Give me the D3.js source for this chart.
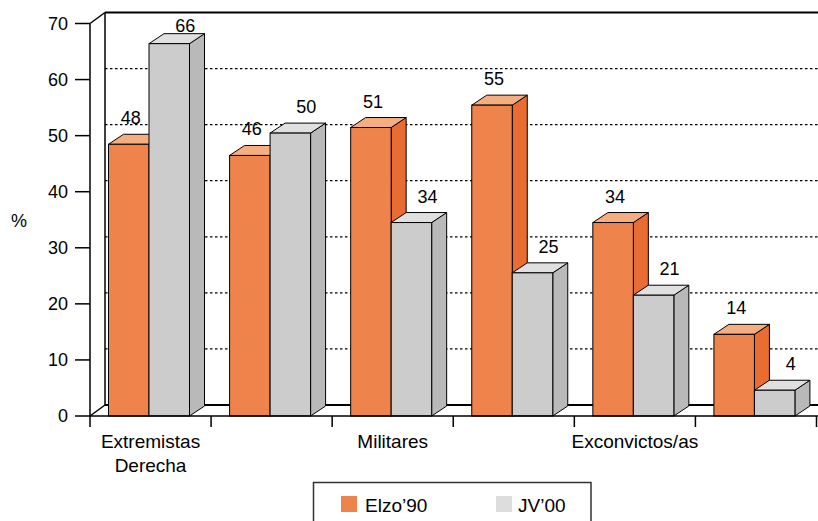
<!DOCTYPE html>
<html>
<head>
<meta charset="utf-8">
<script src="https://cdn.jsdelivr.net/npm/d3@7"></script>
<style>
  html, body { margin: 0; padding: 0; background: #fff; }
  svg { display: block; font-family: "Liberation Sans", Arial, sans-serif; }
</style>
</head>
<body>
<svg id="chart" width="818" height="521"></svg>
<script>
// ---- data ----
const categoryLabels = [["Extremistas", "Derecha"], [], ["Militares"], [], ["Exconvictos/as"], []];
const seriesNames = ["Elzo\u201990", "JV\u201900"];
const elzo90 = [48, 46, 51, 55, 34, 14];
const jv00 = [66, 50, 34, 25, 21, 4];
const yTicks = [0, 10, 20, 30, 40, 50, 60, 70];
const gridValues = [10, 20, 30, 40, 50, 60];

// ---- styles ----
const colors = {
  orange: { front: "#EE834B", top: "#F5AE80", side: "#E96C32", legend: "#EE834B" },
  gray:   { front: "#CCCCCC", top: "#E0E0E0", side: "#B9B9B9", legend: "#DDDDDD" }
};
const DX = 15, DY = -10;      // bar depth
const WX = 15, WY = -11;      // wall depth
const svg = d3.select("#chart");

const idx = d3.range(categoryLabels.length);
const x = d3.scaleBand().domain(idx).range([90, 816.5]).paddingInner(0).paddingOuter(0);
const y = d3.scaleLinear().domain([0, 70]).range([416, 23.5]);       // front axis
const yBar = d3.scaleLinear().domain([0, 70]).range([412.6, 21.3]);  // bar tops
const floorY = y(0);
const rightX = 818;

// ---- walls ----
const g = svg.append("g");
g.selectAll("line.grid").data(gridValues).enter().append("line")
  .attr("x1", 90 + WX).attr("x2", rightX)
  .attr("y1", d => y(d) + WY).attr("y2", d => y(d) + WY)
  .attr("stroke", "#000").attr("stroke-width", 1.3).attr("stroke-dasharray", "2.5,2.5");
g.append("line").attr("x1", 90 + WX).attr("x2", rightX)
  .attr("y1", y(70) + WY).attr("y2", y(70) + WY).attr("stroke", "#000").attr("stroke-width", 2);
g.append("line").attr("x1", 90 + WX).attr("x2", 90 + WX)
  .attr("y1", y(70) + WY).attr("y2", floorY + WY).attr("stroke", "#000").attr("stroke-width", 1.5);
g.append("line").attr("x1", 90 + WX).attr("x2", rightX)
  .attr("y1", floorY + WY).attr("y2", floorY + WY).attr("stroke", "#000").attr("stroke-width", 2);
g.append("line").attr("x1", 90).attr("y1", y(70)).attr("x2", 90 + WX).attr("y2", y(70) + WY)
  .attr("stroke", "#000").attr("stroke-width", 1.5);
g.append("line").attr("x1", 90).attr("y1", floorY).attr("x2", 90 + WX).attr("y2", floorY + WY)
  .attr("stroke", "#000").attr("stroke-width", 1.5);

// ---- bars ----
const barW = 40.5;
const offsets = [18.5, 18.5 + barW];
const series = [
  { name: seriesNames[0], values: elzo90, c: colors.orange, off: offsets[0], lx: 2 },
  { name: seriesNames[1], values: jv00, c: colors.gray, off: offsets[1], lx: 16 }
];

function drawBar(sel, x0, top, bottom, c) {
  const x1 = x0 + barW;
  sel.append("path")
    .attr("d", `M${x1},${top} L${x1 + DX},${top + DY} L${x1 + DX},${bottom + DY} L${x1},${bottom} Z`)
    .attr("fill", c.side).attr("stroke", "#000").attr("stroke-width", 1).attr("stroke-linejoin", "round");
  sel.append("path")
    .attr("d", `M${x0},${top} L${x0 + DX},${top + DY} L${x1 + DX},${top + DY} L${x1},${top} Z`)
    .attr("fill", c.top).attr("stroke", "#000").attr("stroke-width", 1).attr("stroke-linejoin", "round");
  sel.append("rect")
    .attr("x", x0).attr("y", top).attr("width", barW).attr("height", bottom - top)
    .attr("fill", c.front).attr("stroke", "#000").attr("stroke-width", 1);
}

const bars = svg.append("g");
idx.forEach(i => {
  series.forEach(s => {
    drawBar(bars, x(i) + s.off, yBar(s.values[i]), floorY, s.c);
  });
});

// ---- front axis lines ----
const ax = svg.append("g");
ax.append("line").attr("x1", 90).attr("x2", rightX).attr("y1", floorY).attr("y2", floorY)
  .attr("stroke", "#000").attr("stroke-width", 1.5);
ax.append("line").attr("x1", 90).attr("x2", 90).attr("y1", y(70)).attr("y2", floorY)
  .attr("stroke", "#000").attr("stroke-width", 1.5);
ax.selectAll("line.yt").data(yTicks).enter().append("line")
  .attr("x1", 75).attr("x2", 90).attr("y1", d => y(d)).attr("y2", d => y(d))
  .attr("stroke", "#000").attr("stroke-width", 1.5);
ax.selectAll("text.yt").data(yTicks).enter().append("text")
  .attr("x", 68).attr("y", d => y(d)).attr("dy", "0.36em")
  .attr("text-anchor", "end").attr("font-size", 18).attr("fill", "#000").text(d => d);
const xEdges = idx.map(i => x(i)).concat([x(idx.length - 1) + x.bandwidth()]);
ax.selectAll("line.xt").data(xEdges).enter().append("line")
  .attr("x1", d => d).attr("x2", d => d).attr("y1", floorY).attr("y2", floorY + 11)
  .attr("stroke", "#000").attr("stroke-width", 1.5);
idx.forEach(i => {
  const lines = categoryLabels[i];
  const t = ax.append("text").attr("text-anchor", "middle").attr("font-size", 19).attr("fill", "#000");
  lines.forEach((ln, k) => {
    t.append("tspan").attr("x", x(i) + x.bandwidth() / 2).attr("y", 447.5 + k * 24).text(ln);
  });
});
svg.append("text").attr("x", 19).attr("y", 221).attr("dy", "0.36em").attr("text-anchor", "middle")
  .attr("font-size", 18).text("%");

// ---- value labels ----
const labels = svg.append("g");
idx.forEach(i => {
  series.forEach(s => {
    const v = s.values[i];
    labels.append("text")
      .attr("x", x(i) + s.off + barW / 2 + s.lx)
      .attr("y", Math.max(yBar(v) - 20, 32))
      .attr("text-anchor", "middle").attr("font-size", 18).attr("fill", "#000").text(v);
  });
});

// ---- legend ----
const lg = svg.append("g");
lg.append("rect").attr("x", 313.5).attr("y", 482.5).attr("width", 277.5).attr("height", 50)
  .attr("fill", "#fff").attr("stroke", "#333").attr("stroke-width", 1.5);
const legendPos = [{ sx: 341, tx: 365 }, { sx: 496, tx: 518 }];
series.forEach((s, k) => {
  lg.append("rect").attr("x", legendPos[k].sx).attr("y", 496).attr("width", 16).attr("height", 16)
    .attr("fill", s.c.legend);
  lg.append("text").attr("x", legendPos[k].tx).attr("y", 511.5).attr("font-size", 19)
    .attr("fill", "#000").text(s.name);
});
</script>
</body>
</html>
